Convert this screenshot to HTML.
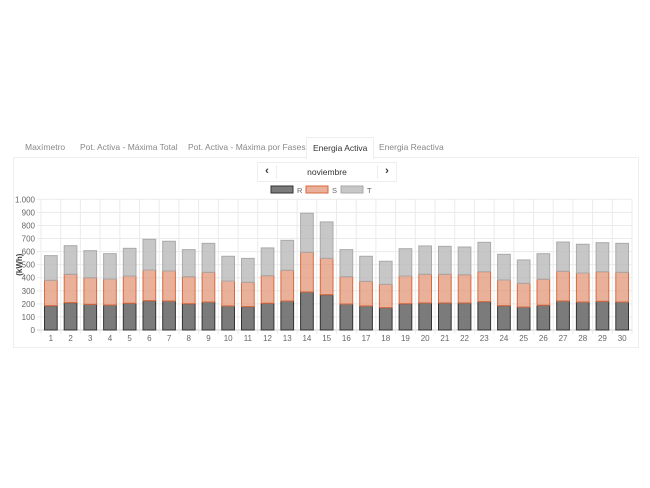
<!DOCTYPE html>
<html><head><meta charset="utf-8"><style>
body{margin:0;width:650px;height:488px;background:#fff;font-family:"Liberation Sans",sans-serif;position:relative;overflow:hidden}
.tab{position:absolute;top:141px;font-size:8.5px;color:#888;height:16px;line-height:12px}
.card{position:absolute;left:13px;top:157px;width:624px;height:190px;border:1px solid #eee;border-top:none}
.tabline{position:absolute;left:13px;top:157px;width:624px;height:1px;background:#eee}
</style></head><body>
<div class="tabline"></div>
<div class="tab" style="left:25px">Maxímetro</div>
<div class="tab" style="left:80px">Pot. Activa - Máxima Total</div>
<div class="tab" style="left:188px">Pot. Activa - Máxima por Fases</div>
<div class="tab" style="left:306px;top:137px;padding:4px 6px 0;border:1px solid #eee;border-bottom:1px solid #fff;background:#fff;color:#333;height:16px">Energia Activa</div>
<div class="tab" style="left:379px">Energia Reactiva</div>
<div class="card"></div>
<div style="position:absolute;left:257px;top:162px;width:138px;height:18px;border:1px solid #eee;font-size:8.5px;color:#333">
<span style="position:absolute;left:0;width:18px;top:2px;text-align:center;font-weight:bold;font-size:11px;border-right:1px solid #eee;height:14px">‹</span>
<span style="position:absolute;left:18px;right:18px;top:4px;text-align:center">noviembre</span>
<span style="position:absolute;right:0;width:18px;top:2px;text-align:center;font-weight:bold;font-size:11px;border-left:1px solid #eee;height:14px">›</span>
</div>
<svg id="c" width="650" height="488" style="position:absolute;left:0;top:0"></svg>
<script>
const days=[1,2,3,4,5,6,7,8,9,10,11,12,13,14,15,16,17,18,19,20,21,22,23,24,25,26,27,28,29,30];
const seriesR=[186,209,196,191,204,224,222,201,214,184,179,204,222,291,270,199,184,171,201,207,207,207,217,186,176,189,222,214,219,214];
const seriesS=[194,217,204,199,209,235,230,207,227,191,186,212,235,303,278,209,188,178,212,219,219,216,229,197,181,199,227,222,227,227];
const seriesT=[189,219,207,194,212,235,227,207,222,189,183,212,229,299,279,207,192,177,209,217,214,212,225,196,179,196,224,220,222,222];
const yTicks=[0,100,200,300,400,500,600,700,800,900,1000];
const yLabels=["0","100","200","300","400","500","600","700","800","900","1.000"];
const legendNames=["R","S","T"];
const svg=document.getElementById('c'),NS="http://www.w3.org/2000/svg";
const X0=41,X1=632,Y0=330,Y1=199.3,band=(X1-X0)/days.length,bw=12.7;
const y=v=>Y0-(v/1000)*(Y0-Y1);
const x=i=>X0+band*i+band/2;
function el(t,a,txt){const e=document.createElementNS(NS,t);for(const k in a)e.setAttribute(k,a[k]);if(txt!=null)e.textContent=txt;svg.appendChild(e);return e;}
yTicks.forEach((t,i)=>{
 const g=el('line',{x1:X0-4,x2:X1,y1:y(t),y2:y(t),stroke:t===0?'#ccc':'#ebebeb','stroke-width':1});
 
 
 const l=el('text',{x:X0-6,y:y(t)+3,'text-anchor':'end','font-size':8,fill:'#666'},yLabels[i]);
 
 
});
for(let i=0;i<=days.length;i++){
 const g=el('line',{x1:X0+band*i,x2:X0+band*i,y1:Y1,y2:Y0+4,stroke:'#ebebeb','stroke-width':1});
 
 
}
const yt=el('text',{x:0,y:0,transform:`translate(22,${(Y0+Y1)/2}) rotate(-90)`,'text-anchor':'middle','font-size':8,'font-weight':'bold',fill:'#444'},'(kWh)');


const fills=['rgba(100,100,100,0.85)','rgba(225,150,120,0.75)','rgba(185,185,185,0.8)'];
const strokes=['#333','#d9693f','#aaa'];
days.forEach((d,i)=>{
 let base=0;
 [seriesR,seriesS,seriesT].forEach((s,k)=>{
  const v=s[i];
  const r=el('rect',{x:x(i)-bw/2,y:y(base+v),width:bw,height:y(base)-y(base+v),fill:fills[k],stroke:strokes[k],'stroke-width':1});
  
  
  base+=v;
 });
 const l=el('text',{x:x(i),y:Y0+11,'text-anchor':'middle','font-size':8,fill:'#666'},d);
 
 
});
legendNames.forEach((n,k)=>{
 const lx=271+k*35;
 const r=el('rect',{x:lx,y:186,width:22,height:7,fill:fills[k],stroke:strokes[k],'stroke-width':1});
 
 
 const t=el('text',{x:lx+26,y:193,'font-size':7.5,fill:'#666'},n);
 
 
});
</script>
</body></html>
